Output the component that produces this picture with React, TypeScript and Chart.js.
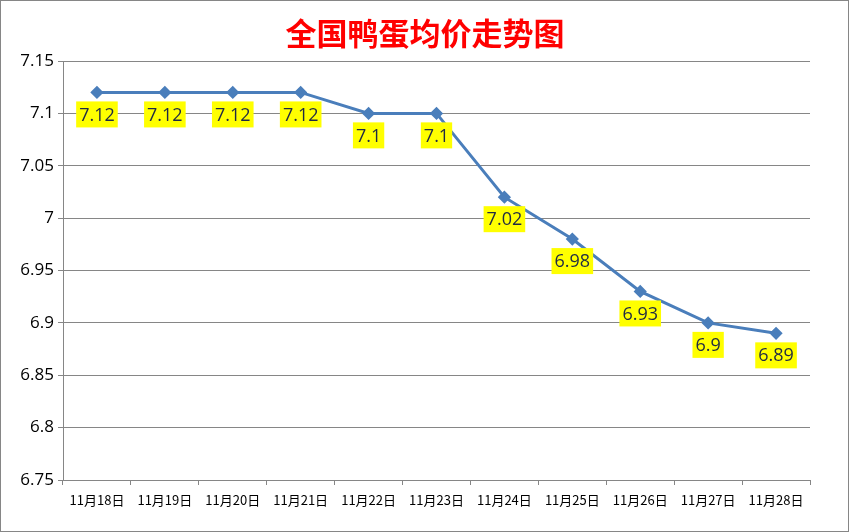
import { useEffect, useRef } from "react";
import { Chart, registerables } from "chart.js";

Chart.register(...registerables);

const chartTitle = "全国鸭蛋均价走势图";
const dates = ["11月18日", "11月19日", "11月20日", "11月21日", "11月22日", "11月23日", "11月24日", "11月25日", "11月26日", "11月27日", "11月28日"];
const prices = [7.12, 7.12, 7.12, 7.12, 7.1, 7.1, 7.02, 6.98, 6.93, 6.9, 6.89];
const yMin = 6.75;
const yMax = 7.15;
const yStep = 0.05;

const GRID = "#868686";
const LINE = "#4a7ebb";

// white background, title, yellow value boxes under each point, outer frame
const decorPlugin = {
  id: "decor",
  beforeDraw(chart: any) {
    const ctx = chart.ctx;
    ctx.save();
    ctx.fillStyle = "#ffffff";
    ctx.fillRect(0, 0, chart.width, chart.height);
    ctx.fillStyle = "#ff0000";
    ctx.font = "bold 31px 'Noto Sans CJK SC', sans-serif";
    ctx.textAlign = "center";
    ctx.textBaseline = "middle";
    ctx.fillText(chartTitle, 425, 33);
    ctx.restore();
  },
  afterDatasetsDraw(chart: any) {
    const ctx = chart.ctx;
    const meta = chart.getDatasetMeta(0);
    ctx.save();
    ctx.font = "18px 'Open Sans', 'Liberation Sans', sans-serif";
    ctx.textAlign = "center";
    ctx.textBaseline = "middle";
    meta.data.forEach((pt: any, i: number) => {
      const text = String(prices[i]);
      const w = ctx.measureText(text).width + 6;
      const h = 26;
      const top = pt.y + 9;
      ctx.fillStyle = "#ffff00";
      ctx.fillRect(pt.x - w / 2, top, w, h);
      ctx.fillStyle = "#1f2a44";
      ctx.fillText(text, pt.x, top + h / 2 + 1);
    });
    ctx.restore();
  },
  afterDraw(chart: any) {
    const ctx = chart.ctx;
    ctx.save();
    ctx.strokeStyle = GRID;
    ctx.lineWidth = 1;
    ctx.strokeRect(0.5, 0.5, chart.width - 1, chart.height - 1);
    ctx.restore();
  },
};

export default function App() {
  const canvasRef = useRef<HTMLCanvasElement>(null);
  const chartInstance = useRef<Chart | null>(null);

  useEffect(() => {
    document.body.style.margin = "0";
    if (!canvasRef.current) return;
    if (chartInstance.current) chartInstance.current.destroy();

    chartInstance.current = new Chart(canvasRef.current, {
      type: "line",
      data: {
        labels: dates,
        datasets: [
          {
            data: prices,
            borderColor: LINE,
            backgroundColor: LINE,
            borderWidth: 3,
            pointStyle: "rectRot",
            pointRadius: 4.5,
            pointBackgroundColor: LINE,
            pointBorderColor: LINE,
            tension: 0,
          },
        ],
      },
      options: {
        animation: false,
        responsive: false,
        layout: { padding: { top: 61, right: 39, left: 0, bottom: 0 } },
        plugins: {
          legend: { display: false },
          tooltip: { enabled: false },
          title: { display: false },
        },
        scales: {
          x: {
            offset: true,
            afterFit: (scale: any) => {
              scale.height = 52;
            },
            grid: {
              offset: true,
              drawOnChartArea: false,
              color: GRID,
              tickLength: 5,
            },
            border: { color: GRID, width: 1 },
            ticks: {
              color: "#000000",
              padding: 7,
              maxRotation: 0,
              autoSkip: false,
              font: { family: "'Noto Sans CJK SC', sans-serif", size: 13 },
            },
          },
          y: {
            min: yMin,
            max: yMax,
            afterFit: (scale: any) => {
              scale.width = 63;
            },
            grid: { color: GRID, tickLength: 5 },
            border: { color: GRID, width: 1 },
            ticks: {
              stepSize: yStep,
              color: "#000000",
              padding: 4,
              font: { family: "'Open Sans', 'Liberation Sans', sans-serif", size: 17 },
              callback: (v: any) => String(Number(Number(v).toFixed(2))),
            },
          },
        },
      },
      plugins: [decorPlugin],
    });

    return () => {
      if (chartInstance.current) {
        chartInstance.current.destroy();
        chartInstance.current = null;
      }
    };
  }, []);

  return (
    <div style={{ width: 849, height: 532 }}>
      <canvas ref={canvasRef} width={849} height={532} />
    </div>
  );
}
